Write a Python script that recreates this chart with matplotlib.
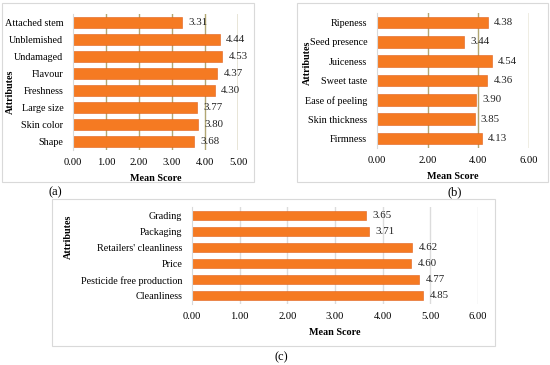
import matplotlib
matplotlib.use("Agg")
import matplotlib.pyplot as plt
from matplotlib.patches import Rectangle

plt.rcParams['font.family'] = ['Liberation Serif', 'DejaVu Serif']

# panel (a)
attrs_a = ['Attached stem', 'Unblemished', 'Undamaged', 'Flavour', 'Freshness',
           'Large size', 'Skin color', 'Shape']
scores_a = [3.31, 4.44, 4.53, 4.37, 4.30, 3.77, 3.80, 3.68]
ticks_a = [0, 1, 2, 3, 4, 5]

# panel (b)
attrs_b = ['Ripeness', 'Seed presence', 'Juiceness', 'Sweet taste', 'Ease of peeling',
           'Skin thickness', 'Firmness']
scores_b = [4.38, 3.44, 4.54, 4.36, 3.90, 3.85, 4.13]
ticks_b = [0, 2, 4, 6]

# panel (c)
attrs_c = ['Grading', 'Packaging', "Retailers' cleanliness", 'Price',
           'Pesticide free production', 'Cleanliness']
scores_c = [3.65, 3.71, 4.62, 4.60, 4.77, 4.85]
ticks_c = [0, 1, 2, 3, 4, 5, 6]

W, H = 550, 365
fig = plt.figure(figsize=(5.5, 3.65), dpi=100)
fig.patch.set_facecolor('white')

BAR = '#F57A22'
FS = 7.3


def px_axes(x0, y0, x1, y1):
    return fig.add_axes([x0 / W, 1 - y1 / H, (x1 - x0) / W, (y1 - y0) / H])


def box(x0, y0, x1, y1):
    fig.patches.append(Rectangle((x0 / W, 1 - y1 / H), (x1 - x0) / W, (y1 - y0) / H,
                                 transform=fig.transFigure, fill=False,
                                 edgecolor='#d9d9d9', linewidth=0.8))


def panel(ax, attrs, scores, ticks, gridcol, bh=0.6):
    ys = list(range(len(attrs)))
    for t in ticks[1:]:
        ax.axvline(t, color=gridcol, linewidth=1.0, zorder=0)
    ax.barh(ys, scores, height=bh, color=BAR, edgecolor='#E0601A',
            linewidth=0.4, zorder=2)
    for y, v in zip(ys, scores):
        ax.annotate('%.2f' % v, (v, y), xytext=(4.5, 0), textcoords='offset points',
                    va='center', ha='left', fontsize=7.8, color='#222222', zorder=3)
    ax.set_yticks(ys)
    ax.set_yticklabels(attrs, fontsize=FS)
    ax.set_ylim(len(attrs) - 0.5, -0.5)
    ax.set_xlim(0, ticks[-1])
    ax.set_xticks(ticks)
    ax.set_xticklabels(['%.2f' % t for t in ticks], fontsize=7.6)
    ax.tick_params(axis='y', length=0, pad=7)
    ax.tick_params(axis='x', length=0, pad=6)
    for s in ['top', 'right', 'bottom']:
        ax.spines[s].set_visible(False)
    ax.spines['left'].set_color('#d9d9d9')
    ax.spines['left'].set_linewidth(0.8)
    ax.set_xlabel('Mean Score', fontsize=FS, fontweight='bold', labelpad=5)
    ax.patch.set_alpha(0)


# boxes
box(2, 3, 254, 182)
box(297, 3, 548, 182)
box(52, 199, 495, 346)

ax_a = px_axes(73, 14, 238, 150)
panel(ax_a, attrs_a, scores_a, ticks_a, '#B2A773')
ax_a.lines[-1].set_color('#8C7F3C')

ax_b = px_axes(377, 13, 529, 148)
panel(ax_b, attrs_b, scores_b, ticks_b, '#B2A773')

ax_c = px_axes(192, 207, 478, 304)
panel(ax_c, attrs_c, scores_c, ticks_c, '#DCDCDC', bh=0.55)

# y labels
fig.text(10 / W, 1 - 92 / H, 'Attributes', rotation=90, fontsize=FS,
         fontweight='bold', ha='center', va='center')
fig.text(307 / W, 1 - 63 / H, 'Attributes', rotation=90, fontsize=FS,
         fontweight='bold', ha='center', va='center')
fig.text(68 / W, 1 - 237 / H, 'Attributes', rotation=90, fontsize=FS,
         fontweight='bold', ha='center', va='center')

# panel captions
fig.text(55 / W, 1 - 192 / H, '(a)', fontsize=9, ha='center', va='center')
fig.text(455 / W, 1 - 192 / H, '(b)', fontsize=9, ha='center', va='center')
fig.text(281 / W, 1 - 357 / H, '(c)', fontsize=9, ha='center', va='center')

fig.savefig('out.png', dpi=100)
